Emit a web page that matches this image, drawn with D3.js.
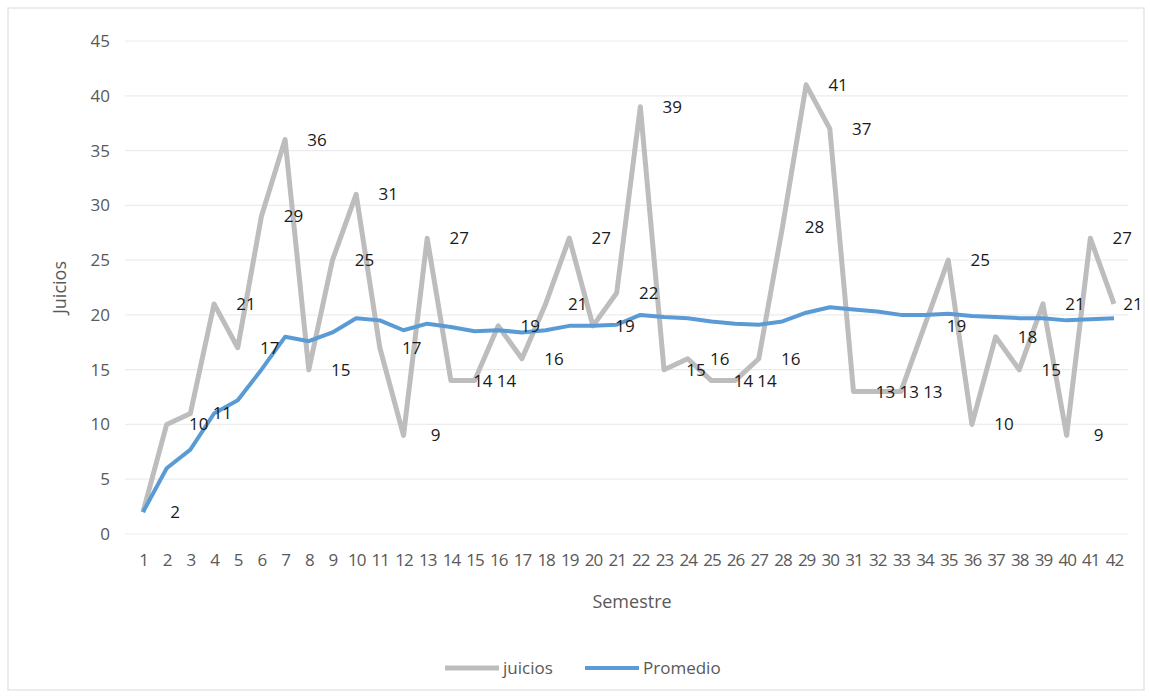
<!DOCTYPE html>
<html lang="es">
<head>
    <meta charset="UTF-8">
    <title>Juicios por semestre</title>
    <script src="https://d3js.org/d3.v7.min.js"></script>
    <style>
        body { margin: 0; background: #fff; font-family: "Open Sans", "Noto Sans", sans-serif; }
        .tick text { fill: #595959; font-size: 17px; }
        .axis-title { fill: #595959; font-size: 18px; }
        .data-label { fill: #1a1a1a; font-size: 17px; }
        .legend-text { fill: #595959; font-size: 17px; }
    </style>
</head>
<body>
<div id="chart"></div>
<script>
// semestres 1..42
const semestres = [1, 2, 3, 4, 5, 6, 7, 8, 9, 10, 11, 12, 13, 14, 15, 16, 17, 18, 19, 20, 21,
                   22, 23, 24, 25, 26, 27, 28, 29, 30, 31, 32, 33, 34, 35, 36, 37, 38, 39, 40, 41, 42];

const juicios = [2, 10, 11, 21, 17, 29, 36, 15, 25, 31, 17, 9, 27, 14, 14, 19, 16, 21, 27, 19, 22,
                 39, 15, 16, 14, 14, 16, 28, 41, 37, 13, 13, 13, 19, 25, 10, 18, 15, 21, 9, 27, 21];

const promedio = [2, 6, 7.7, 11, 12.2, 15, 18, 17.6, 18.4, 19.7, 19.5, 18.6, 19.2, 18.9, 18.5, 18.6, 18.4,
                  18.6, 19, 19, 19.1, 20, 19.8, 19.7, 19.4, 19.2, 19.1, 19.4, 20.2, 20.7, 20.5, 20.3, 20,
                  20, 20.1, 19.9, 19.8, 19.7, 19.7, 19.5, 19.6, 19.7];

const yTicks = [0, 5, 10, 15, 20, 25, 30, 35, 40, 45];

const W = 1150, H = 696;

const svg = d3.select("#chart").append("svg")
    .attr("width", W)
    .attr("height", H);

// marco del gráfico
svg.append("rect")
    .attr("x", 8).attr("y", 8)
    .attr("width", W - 14).attr("height", H - 14)
    .attr("fill", "none")
    .attr("stroke", "#e6e6e6")
    .attr("stroke-width", 1.5);

const x = d3.scalePoint()
    .domain(semestres)
    .range([143, 1114]);

const y = d3.scaleLinear()
    .domain([0, 45])
    .range([534, 41]);

// lineas de cuadricula
svg.append("g")
    .selectAll("line")
    .data(yTicks)
    .join("line")
    .attr("x1", 125)
    .attr("x2", 1128)
    .attr("y1", d => y(d))
    .attr("y2", d => y(d))
    .attr("stroke", "#ececec")
    .attr("stroke-width", 1.2);

const yAxis = svg.append("g")
    .attr("transform", "translate(110,0)")
    .call(d3.axisLeft(y).tickValues(yTicks).tickSize(0).tickPadding(0));
yAxis.select(".domain").remove();
yAxis.selectAll("text").style("font-family", "Open Sans, sans-serif");

const xAxis = svg.append("g")
    .attr("transform", "translate(0,554)")
    .call(d3.axisBottom(x).tickSize(0).tickPadding(0));
xAxis.select(".domain").remove();
xAxis.selectAll("text")
    .attr("dy", "0.71em")
    .style("font-family", "Open Sans, sans-serif")
    .style("letter-spacing", "-1px");

svg.append("text")
    .attr("class", "axis-title")
    .attr("transform", `translate(66,${y(22.5)}) rotate(-90)`)
    .attr("text-anchor", "middle")
    .text("Juicios");

svg.append("text")
    .attr("class", "axis-title")
    .attr("x", 632)
    .attr("y", 608)
    .attr("text-anchor", "middle")
    .text("Semestre");

const line = d3.line()
    .x((d, i) => x(semestres[i]))
    .y(d => y(d));

svg.append("path")
    .datum(juicios)
    .attr("d", line)
    .attr("fill", "none")
    .attr("stroke", "#bdbdbd")
    .attr("stroke-width", 5)
    .attr("stroke-linejoin", "round");

svg.append("path")
    .datum(promedio)
    .attr("d", line)
    .attr("fill", "none")
    .attr("stroke", "#5b9bd5")
    .attr("stroke-width", 4)
    .attr("stroke-linejoin", "round");

// etiquetas de datos (a la derecha del punto)
svg.append("g")
    .selectAll("text")
    .data(juicios)
    .join("text")
    .attr("class", "data-label")
    .attr("x", (d, i) => Math.min(x(semestres[i]) + 32, 1133))
    .attr("y", d => y(d) + 6)
    .attr("text-anchor", "middle")
    .text(d => d);

// leyenda
const legend = svg.append("g").attr("transform", "translate(445,668)");
legend.append("line")
    .attr("x1", 0).attr("x2", 54)
    .attr("stroke", "#bdbdbd").attr("stroke-width", 5);
legend.append("text")
    .attr("class", "legend-text")
    .attr("x", 58).attr("y", 6)
    .text("juicios");
legend.append("line")
    .attr("x1", 140).attr("x2", 194)
    .attr("stroke", "#5b9bd5").attr("stroke-width", 4);
legend.append("text")
    .attr("class", "legend-text")
    .attr("x", 198).attr("y", 6)
    .text("Promedio");
</script>
</body>
</html>
